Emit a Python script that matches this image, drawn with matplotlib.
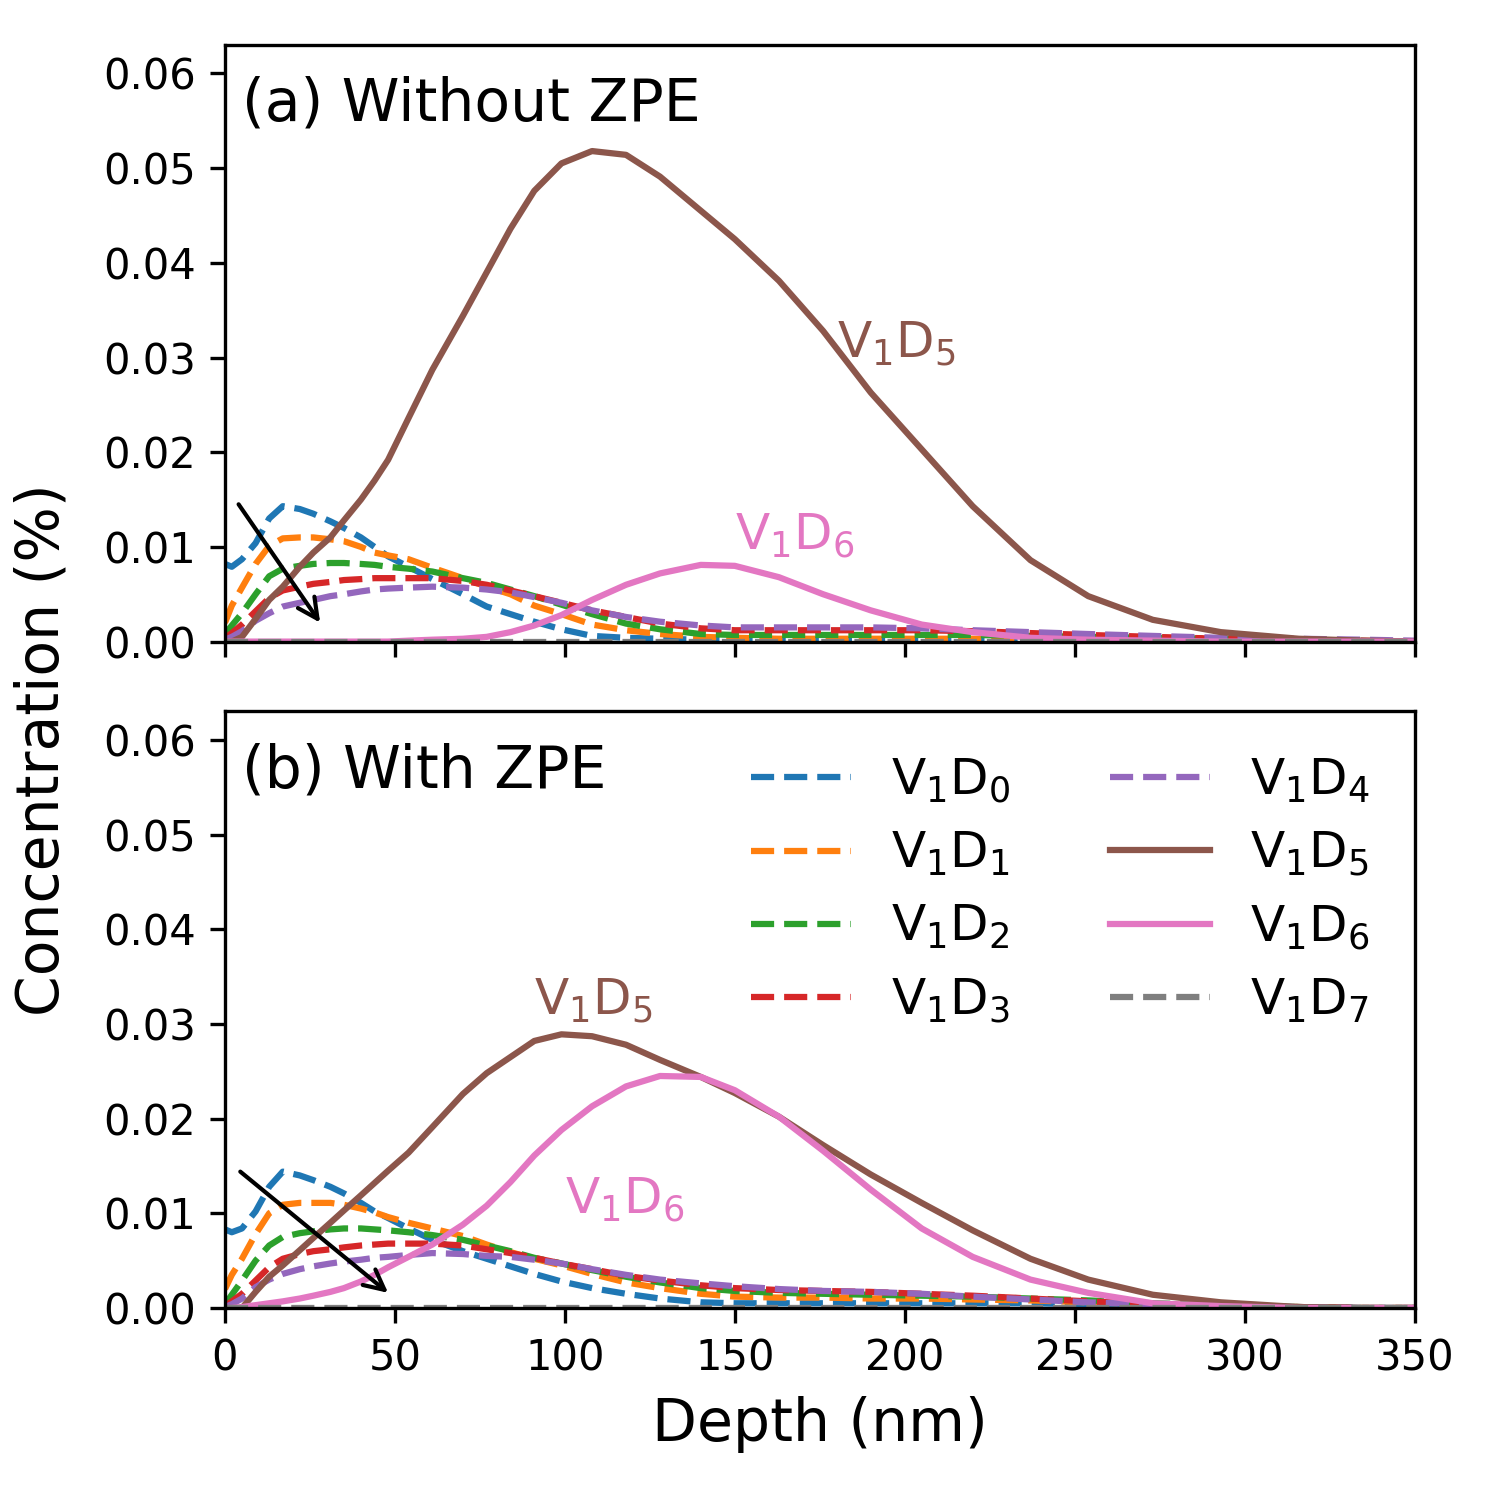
import numpy as np
import matplotlib
matplotlib.use("Agg")
import matplotlib.pyplot as plt

# depth nodes (nm)
depth = [0, 2, 5, 9, 13, 17, 22, 26, 31, 35, 40, 44, 48, 54, 61, 70, 77, 84, 91, 99,
         108, 118, 128, 140, 150, 163, 176, 190, 205, 220, 237, 254, 273, 293, 316, 335, 350]

# (a) without ZPE
a_d0 = [0.0082, 0.0079, 0.0087, 0.0104, 0.0130, 0.0143, 0.0140, 0.0135, 0.0127, 0.0120,
        0.0110, 0.0100, 0.0090, 0.0079, 0.0066, 0.0050, 0.0037, 0.0029, 0.0021, 0.0013,
        0.0006, 0.0004, 0.0003, 0.0002, 0.0002, 0.0002, 0.0002, 0.0002, 0.0002, 0.0002,
        0.0002, 0.0001, 0.0001, 0.0001, 0.0, 0.0, 0.0]
a_d1 = [0.0020, 0.0038, 0.0057, 0.0082, 0.0101, 0.0109, 0.0110, 0.0110, 0.0108, 0.0106,
        0.0100, 0.0094, 0.0091, 0.0087, 0.0078, 0.0067, 0.0058, 0.0050, 0.0038, 0.0029,
        0.0018, 0.0012, 0.0008, 0.0005, 0.0004, 0.0003, 0.0003, 0.0003, 0.0003, 0.0003,
        0.0002, 0.0002, 0.0001, 0.0001, 0.0, 0.0, 0.0]
a_d2 = [0.0008, 0.0017, 0.0030, 0.0050, 0.0069, 0.0077, 0.0080, 0.0082, 0.0083, 0.0083,
        0.0082, 0.0081, 0.0079, 0.0077, 0.0074, 0.0067, 0.0062, 0.0055, 0.0048, 0.0039,
        0.0029, 0.0019, 0.0013, 0.0008, 0.0007, 0.0007, 0.0007, 0.0007, 0.0007, 0.0007,
        0.0006, 0.0005, 0.0004, 0.0003, 0.0001, 0.0, 0.0]
a_d3 = [0.0004, 0.0009, 0.0018, 0.0032, 0.0046, 0.0054, 0.0058, 0.0061, 0.0063, 0.0065,
        0.0066, 0.0067, 0.0067, 0.0067, 0.0067, 0.0064, 0.0060, 0.0054, 0.0048, 0.0041,
        0.0033, 0.0026, 0.0019, 0.0014, 0.0012, 0.0012, 0.0012, 0.0012, 0.0012, 0.0011,
        0.0009, 0.0007, 0.0005, 0.0003, 0.0002, 0.0001, 0.0]
a_d4 = [0.0002, 0.0005, 0.0011, 0.0022, 0.0030, 0.0037, 0.0041, 0.0044, 0.0048, 0.0050,
        0.0053, 0.0055, 0.0056, 0.0057, 0.0058, 0.0057, 0.0055, 0.0052, 0.0047, 0.0041,
        0.0033, 0.0026, 0.0021, 0.0017, 0.0015, 0.0015, 0.0015, 0.0015, 0.0014, 0.0012,
        0.0010, 0.0008, 0.0006, 0.0004, 0.0003, 0.0002, 0.0001]
a_d5 = [0.0, 0.0, 0.0005, 0.0024, 0.0044, 0.0058, 0.0079, 0.0094, 0.0110, 0.0128,
        0.0150, 0.0170, 0.0192, 0.0236, 0.0287, 0.0344, 0.0390, 0.0436, 0.0476, 0.0505,
        0.0518, 0.0514, 0.0491, 0.0455, 0.0425, 0.0381, 0.0328, 0.0263, 0.0203, 0.0143,
        0.0086, 0.0048, 0.0023, 0.0010, 0.0003, 0.0001, 0.0]
a_d6 = [0.0, 0.0, 0.0, 0.0, 0.0, 0.0, 0.0, 0.0, 0.0, 0.0,
        0.0, 0.0, 0.0, 0.0001, 0.0002, 0.0003, 0.0005, 0.0010, 0.0017, 0.0028,
        0.0044, 0.0060, 0.0072, 0.0081, 0.0080, 0.0068, 0.0050, 0.0033, 0.0018, 0.0010,
        0.0004, 0.0002, 0.0001, 0.0, 0.0, 0.0, 0.0]
a_d7 = [0.0] * len(depth)

# (b) with ZPE
b_d0 = [0.0083, 0.0080, 0.0084, 0.0102, 0.0128, 0.0144, 0.0140, 0.0135, 0.0128, 0.0121,
        0.0111, 0.0102, 0.0095, 0.0084, 0.0072, 0.0060, 0.0052, 0.0044, 0.0036, 0.0028,
        0.0021, 0.0015, 0.0010, 0.0006, 0.0005, 0.0005, 0.0005, 0.0005, 0.0005, 0.0005,
        0.0005, 0.0004, 0.0003, 0.0002, 0.0001, 0.0, 0.0]
b_d1 = [0.0020, 0.0035, 0.0052, 0.0078, 0.0100, 0.0109, 0.0111, 0.0111, 0.0111, 0.0109,
        0.0105, 0.0101, 0.0096, 0.0090, 0.0084, 0.0076, 0.0067, 0.0059, 0.0052, 0.0045,
        0.0036, 0.0027, 0.0021, 0.0015, 0.0012, 0.0011, 0.0011, 0.0010, 0.0010, 0.0009,
        0.0008, 0.0006, 0.0004, 0.0002, 0.0001, 0.0, 0.0]
b_d2 = [0.0004, 0.0014, 0.0029, 0.0050, 0.0066, 0.0075, 0.0079, 0.0081, 0.0083, 0.0084,
        0.0084, 0.0083, 0.0082, 0.0080, 0.0077, 0.0072, 0.0066, 0.0060, 0.0053, 0.0047,
        0.0040, 0.0033, 0.0027, 0.0021, 0.0018, 0.0016, 0.0015, 0.0014, 0.0013, 0.0012,
        0.0010, 0.0008, 0.0005, 0.0003, 0.0001, 0.0, 0.0]
b_d3 = [0.0002, 0.0007, 0.0015, 0.0029, 0.0043, 0.0052, 0.0057, 0.0060, 0.0062, 0.0064,
        0.0066, 0.0067, 0.0068, 0.0068, 0.0068, 0.0066, 0.0062, 0.0058, 0.0053, 0.0047,
        0.0041, 0.0034, 0.0029, 0.0024, 0.0021, 0.0019, 0.0018, 0.0017, 0.0015, 0.0013,
        0.0010, 0.0007, 0.0004, 0.0002, 0.0001, 0.0, 0.0]
b_d4 = [0.0001, 0.0004, 0.0010, 0.0022, 0.0030, 0.0036, 0.0041, 0.0044, 0.0047, 0.0049,
        0.0051, 0.0053, 0.0054, 0.0056, 0.0058, 0.0057, 0.0055, 0.0054, 0.0051, 0.0047,
        0.0041, 0.0035, 0.0030, 0.0026, 0.0023, 0.0020, 0.0018, 0.0017, 0.0015, 0.0012,
        0.0009, 0.0006, 0.0004, 0.0002, 0.0001, 0.0, 0.0]
b_d5 = [0.0, 0.0, 0.0, 0.0017, 0.0033, 0.0045, 0.0061, 0.0074, 0.0090, 0.0103,
        0.0119, 0.0132, 0.0145, 0.0164, 0.0191, 0.0226, 0.0248, 0.0265, 0.0282, 0.0289,
        0.0287, 0.0278, 0.0262, 0.0244, 0.0227, 0.0202, 0.0172, 0.0141, 0.0111, 0.0082,
        0.0052, 0.0030, 0.0014, 0.0006, 0.0001, 0.0, 0.0]
b_d6 = [0.0, 0.0, 0.0001, 0.0003, 0.0005, 0.0007, 0.0010, 0.0013, 0.0017, 0.0021,
        0.0028, 0.0035, 0.0043, 0.0054, 0.0067, 0.0088, 0.0108, 0.0133, 0.0161, 0.0188,
        0.0213, 0.0234, 0.0245, 0.0244, 0.0230, 0.0202, 0.0166, 0.0125, 0.0084, 0.0054,
        0.0030, 0.0016, 0.0005, 0.0002, 0.0, 0.0, 0.0]
b_d7 = [0.0] * len(depth)

labels = [r"V$_1$D$_%d$" % i for i in range(8)]
styles = ["--", "--", "--", "--", "--", "-", "-", "--"]

series_a = [a_d0, a_d1, a_d2, a_d3, a_d4, a_d5, a_d6, a_d7]
series_b = [b_d0, b_d1, b_d2, b_d3, b_d4, b_d5, b_d6, b_d7]

fig, (ax1, ax2) = plt.subplots(2, 1, sharex=True, figsize=(5, 5), dpi=300)
plt.subplots_adjust(left=0.15, right=0.943, top=0.97, bottom=0.128, hspace=0.117)

for i in range(8):
    ax1.plot(depth, series_a[i], styles[i], color="C%d" % i, label=labels[i])
    ax2.plot(depth, series_b[i], styles[i], color="C%d" % i, label=labels[i])

for ax in (ax1, ax2):
    ax.set_xlim(0, 350)
    ax.set_ylim(0, 0.063)
    ax.set_yticks(np.arange(0, 0.061, 0.01))

ax1.text(5, 0.055, "(a) Without ZPE", fontsize=14)
ax2.text(5, 0.055, "(b) With ZPE", fontsize=14)

ax1.text(180, 0.030, labels[5], color="C5", fontsize=12)
ax1.text(150, 0.0097, labels[6], color="C6", fontsize=12)
ax2.text(91, 0.031, labels[5], color="C5", fontsize=12)
ax2.text(100, 0.010, labels[6], color="C6", fontsize=12)

arrow = dict(arrowstyle="->", color="k", lw=1, shrinkA=0, shrinkB=0, mutation_scale=12)
ax1.annotate("", xy=(28, 0.002), xytext=(4, 0.0145), arrowprops=arrow)
ax2.annotate("", xy=(48, 0.0016), xytext=(4.5, 0.0144), arrowprops=arrow)

ax2.legend(ncol=2, frameon=False, fontsize=12, loc="upper right")
ax2.set_xlabel("Depth (nm)", fontsize=14)
fig.text(0.028, 0.5, "Concentration (%)", rotation=90, va="center", ha="center", fontsize=14)

plt.savefig("out.png", dpi=300)
